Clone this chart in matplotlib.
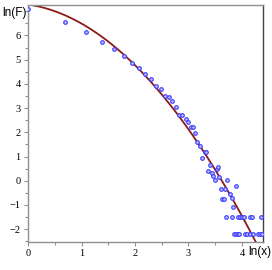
import matplotlib
matplotlib.use("Agg")
import numpy as np
import matplotlib.pyplot as plt
from matplotlib.ticker import MultipleLocator, FixedLocator

# data points: ln(x), ln(F)
ln_x = [0.00, 0.69, 1.09, 1.38, 1.61, 1.79, 1.95, 2.07, 2.19, 2.30,
        2.40, 2.48, 2.56, 2.63, 2.70, 2.77, 2.83, 2.88, 2.95, 3.00,
        3.05, 3.09, 3.13, 3.16, 3.21, 3.25, 3.30, 3.33, 3.37, 3.40,
        3.44, 3.46, 3.49, 3.53, 3.56, 3.58, 3.61, 3.63, 3.66, 3.69,
        3.71, 3.73, 3.78, 3.81, 3.81, 3.84, 3.86, 3.89, 3.89, 3.92,
        3.93, 3.95, 3.96, 4.01, 4.04, 4.06, 4.10, 4.16, 4.16, 4.18,
        4.20, 4.30, 4.33, 4.36, 4.37]
ln_F = [7.10, 6.54, 6.13, 5.73, 5.43, 5.15, 4.88, 4.67, 4.40, 4.19,
        3.90, 3.78, 3.51, 3.47, 3.31, 3.06, 2.73, 2.73, 2.56, 2.41,
        2.21, 2.23, 1.96, 1.59, 1.45, 0.93, 1.17, 1.17, 0.40, 0.65,
        0.30, 0.21, 0.03, 0.48, 0.55, 0.14, -0.36, -0.77, -0.77, -0.36,
        -1.50, 0.03, -0.55, -0.70, -1.50, -1.07, -2.20, -0.22, -2.20, -2.20,
        -1.50, -2.20, -1.50, -1.50, -1.50, -2.20, -2.20, -1.50, -2.20, -1.50,
        -2.20, -2.20, -2.20, -1.50, -2.20]

x_ticks = [0, 1, 2, 3, 4]
y_ticks = [-2, -1, 0, 1, 2, 3, 4, 5, 6]

# quadratic fit coefficients: ln(F) = c0 + c1*t + c2*t^2
fit_coef = [7.28, -0.327, -0.464]

fig = plt.figure(figsize=(2.72, 2.70), dpi=100)
ax = fig.add_axes([27.7 / 272, 1 - 241.7 / 270, (263 - 27.7) / 272, (241.7 - 4.5) / 270])

t = np.linspace(0, 4.4, 300)
curve = fit_coef[0] + fit_coef[1] * t + fit_coef[2] * t ** 2
ax.plot(t, curve, color="#8b1a1a", lw=1.3, zorder=2)
ax.plot(ln_x, ln_F, ls="none", marker="o", ms=2.6, mfc="#c0c0ff",
        mec="#3a3aff", mew=0.8, zorder=3)

ax.set_xlim(-0.01, 4.395)
ax.set_ylim(-2.52, 7.28)

ax.xaxis.set_major_locator(FixedLocator(x_ticks))
ax.xaxis.set_minor_locator(MultipleLocator(0.5))
ax.yaxis.set_major_locator(FixedLocator(y_ticks))
ax.yaxis.set_minor_locator(MultipleLocator(0.5))
ax.set_xticklabels([str(v) for v in x_ticks])
ax.set_yticklabels([str(v).replace("-", "\u2212") for v in y_ticks])

for side in ("left", "bottom", "top"):
    ax.spines[side].set_color("#909090")
    ax.spines[side].set_linewidth(1.0)
ax.spines["right"].set_color("#404040")
ax.spines["right"].set_linewidth(1.0)

ax.tick_params(which="both", direction="out", colors="#909090",
               labelcolor="black", width=0.8)
ax.tick_params(which="major", length=3, pad=2)
ax.tick_params(which="minor", length=2)

for lab in ax.get_xticklabels() + ax.get_yticklabels():
    lab.set_fontfamily("Liberation Serif")
    lab.set_fontsize(7.5)

fig.text(2 / 272, 1 - 13 / 270, "ln(F)", fontsize=8.5, family="Liberation Sans",
         va="center", ha="left")
fig.text(248 / 272, 1 - 252 / 270, "ln(x)", fontsize=8.5, family="Liberation Sans",
         va="center", ha="left")

fig.savefig("out.png", dpi=100)
